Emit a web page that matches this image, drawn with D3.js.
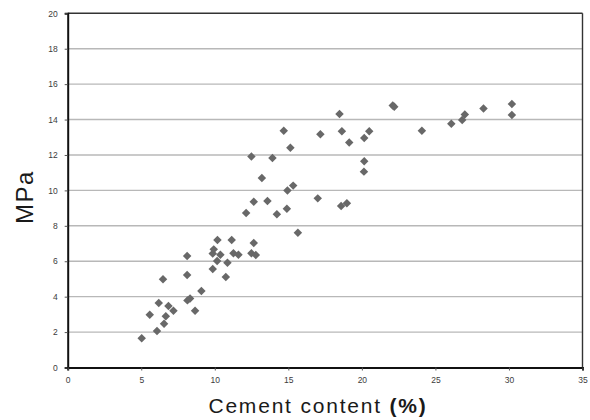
<!DOCTYPE html>
<html>
<head>
<meta charset="utf-8">
<script src="https://cdn.jsdelivr.net/npm/d3@7"></script>
<style>
  html, body { margin: 0; padding: 0; background: #fff; }
  svg { display: block; }
</style>
</head>
<body>
<svg id="chart" width="590" height="420"></svg>
<script>
// Cement content (%)
const cementContent = [
  5.03, 5.58, 6.07, 6.19, 6.48, 6.55, 6.67, 6.85, 7.19,
  8.12, 8.12, 8.14, 8.32, 8.66, 9.09,
  9.86, 9.86, 9.93, 10.18, 10.16, 10.38, 10.75, 10.86,
  11.15, 11.27, 11.61, 12.13, 12.49, 12.65, 12.65, 12.79,
  13.58, 14.22, 14.90, 14.94, 15.65, 17.00, 18.59, 18.98,
  12.49, 13.20, 13.92, 14.69, 15.14, 15.33,
  17.18, 18.48, 18.64, 19.14, 20.16, 20.50, 20.16, 20.14,
  22.10, 22.20, 24.08, 26.08, 26.82, 27.00, 28.27, 30.20, 30.20
];
// Strength (MPa)
const strengthMPa = [
  1.65, 2.98, 2.06, 3.64, 4.98, 2.47, 2.89, 3.47, 3.21,
  6.30, 5.22, 3.79, 3.90, 3.21, 4.32,
  5.56, 6.43, 6.67, 7.20, 6.01, 6.37, 5.11, 5.92,
  7.20, 6.45, 6.37, 8.72, 6.45, 7.03, 9.36, 6.35,
  9.40, 8.65, 8.97, 9.99, 7.61, 9.55, 9.12, 9.27,
  11.92, 10.70, 11.83, 13.37, 12.41, 10.27,
  13.17, 14.31, 13.34, 12.70, 12.96, 13.34, 11.64, 11.06,
  14.80, 14.72, 13.37, 13.77, 13.98, 14.28, 14.62, 14.88, 14.26
];
const xTicks = [0, 5, 10, 15, 20, 25, 30, 35];
const yTicks = [0, 2, 4, 6, 8, 10, 12, 14, 16, 18, 20];
const xTitleMain = "Cement content ";
const xTitleUnit = "(%)";
const yTitle = "MPa";

const svg = d3.select("#chart");
const mLeft = 67.7, mRight = 582.5, mTop = 13.3, mBottom = 367.5;

const x = d3.scaleLinear().domain([0, 35]).range([mLeft, mRight]);
const y = d3.scaleLinear().domain([0, 20]).range([mBottom, mTop]);

// gridlines
svg.append("g")
  .selectAll("line")
  .data(yTicks.filter(d => d > 0 && d < 20))
  .join("line")
  .attr("x1", mLeft).attr("x2", mRight)
  .attr("y1", d => y(d)).attr("y2", d => y(d))
  .attr("stroke", "#b8b8b8").attr("stroke-width", 1.4);

// frame top/right
svg.append("line").attr("x1", mLeft).attr("x2", mRight).attr("y1", mTop).attr("y2", mTop)
  .attr("stroke", "#333").attr("stroke-width", 1.4);
svg.append("line").attr("x1", mRight).attr("x2", mRight).attr("y1", mTop).attr("y2", mBottom)
  .attr("stroke", "#333").attr("stroke-width", 1.4);

// axes
const yAxis = d3.axisLeft(y).tickValues(yTicks).tickSize(3).tickPadding(7).tickFormat(d3.format("d"));
const xAxis = d3.axisBottom(x).tickValues(xTicks).tickSize(3).tickPadding(6).tickFormat(d3.format("d"));

const gy = svg.append("g").attr("transform", `translate(${mLeft},0)`).call(yAxis);
const gx = svg.append("g").attr("transform", `translate(0,${mBottom})`).call(xAxis);

[gx, gy].forEach(g => {
  g.select(".domain").attr("stroke", "#111").attr("stroke-width", 2);
  g.selectAll(".tick line").attr("stroke", "#555").attr("stroke-width", 1);
  g.selectAll(".tick text")
    .attr("font-family", "'Liberation Sans', Arial, sans-serif")
    .attr("font-size", 8.5)
    .attr("fill", "#3c3c3c");
});

// points (diamonds)
const pts = cementContent.map((c, i) => ({ c, s: strengthMPa[i] }));
svg.append("g")
  .selectAll("path")
  .data(pts)
  .join("path")
  .attr("d", d3.symbol().type(d3.symbolSquare).size(36))
  .attr("transform", d => `translate(${x(d.c)},${y(d.s)}) rotate(45)`)
  .attr("fill", "#686868");

// titles
const xt = svg.append("text")
  .attr("x", 318)
  .attr("y", 413)
  .attr("text-anchor", "middle")
  .attr("font-family", "'Liberation Sans', Arial, sans-serif")
  .attr("font-size", 21)
  .attr("letter-spacing", 1.8)
  .attr("fill", "#1a1a1a");
xt.append("tspan").text(xTitleMain);
xt.append("tspan").attr("font-weight", "bold").text(xTitleUnit);

svg.append("text")
  .attr("transform", "translate(33,197) rotate(-90)")
  .attr("text-anchor", "middle")
  .attr("font-family", "'Liberation Sans', Arial, sans-serif")
  .attr("font-size", 24)
  .attr("letter-spacing", 1.5)
  .attr("fill", "#1a1a1a")
  .text(yTitle);
</script>
</body>
</html>
